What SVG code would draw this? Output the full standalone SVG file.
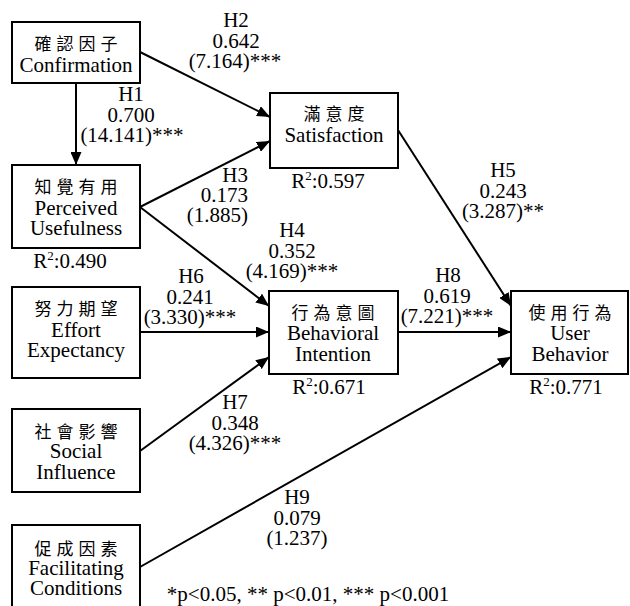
<svg xmlns="http://www.w3.org/2000/svg" width="630" height="606" viewBox="0 0 630 606">
<style>
.box{fill:#fff;stroke:#000;stroke-width:2}
.t{font-family:"Liberation Serif","Times New Roman",serif;font-size:21px;text-anchor:middle;fill:#000}
.e{text-anchor:end}
.c{font-family:"Noto Sans CJK TC","Noto Sans CJK SC",sans-serif;font-size:17px;letter-spacing:5px;text-anchor:middle;fill:#000}
.ln{stroke:#000;stroke-width:2;fill:none;marker-end:url(#ah)}
</style>
<defs>
<marker id="ah" markerUnits="userSpaceOnUse" markerWidth="13" markerHeight="11" refX="13" refY="5.5" orient="auto" viewBox="0 0 13 11">
<path d="M0,0 L13,5.5 L0,11 z" fill="#000"/>
</marker>
</defs>
<rect width="630" height="606" fill="#fff"/>
<g id="connectors">
<path class="ln" d="M76,83 L76,165"/>
<path class="ln" d="M140,52 L270,117"/>
<path class="ln" d="M140,207 L270,141"/>
<path class="ln" d="M140,207 L269,306"/>
<path class="ln" d="M398,130 L511,306"/>
<path class="ln" d="M140,332 L269,332"/>
<path class="ln" d="M140,451 L269,357"/>
<path class="ln" d="M398,332 L511,332"/>
<path class="ln" d="M140,567 L511,357"/>
</g>
<g id="node-confirmation">
<rect class="box" x="12" y="22" width="128" height="61"/>
<text class="c" x="78.5" y="50">確認因子</text>
<text class="t" x="76" y="72">Confirmation</text>
</g>
<g id="node-pu">
<rect class="box" x="12" y="165" width="128" height="83"/>
<text class="c" x="78.5" y="193">知覺有用</text>
<text class="t" x="76" y="215">Perceived</text>
<text class="t" x="76" y="235">Usefulness</text>
<text class="t" x="70" y="268">R<tspan font-size="13" dy="-8">2</tspan><tspan dy="8">:0.490</tspan></text>
</g>
<g id="node-satisfaction">
<rect class="box" x="270" y="93" width="128" height="75"/>
<text class="c" x="336.5" y="120">滿意度</text>
<text class="t" x="334" y="142">Satisfaction</text>
<text class="t" x="328" y="188">R<tspan font-size="13" dy="-8">2</tspan><tspan dy="8">:0.597</tspan></text>
</g>
<g id="node-effort">
<rect class="box" x="12" y="287" width="128" height="91"/>
<text class="c" x="78.5" y="315">努力期望</text>
<text class="t" x="76" y="337">Effort</text>
<text class="t" x="76" y="357">Expectancy</text>
</g>
<g id="node-social">
<rect class="box" x="12" y="409" width="128" height="83"/>
<text class="c" x="78.5" y="438">社會影響</text>
<text class="t" x="76" y="458">Social</text>
<text class="t" x="76" y="479">Influence</text>
</g>
<g id="node-facilitating">
<rect class="box" x="12" y="525" width="128" height="90"/>
<text class="c" x="78.5" y="555">促成因素</text>
<text class="t" x="76" y="575">Facilitating</text>
<text class="t" x="76" y="595">Conditions</text>
</g>
<g id="node-bi">
<rect class="box" x="269" y="291" width="129" height="83"/>
<text class="c" x="335.5" y="319">行為意圖</text>
<text class="t" x="333" y="340">Behavioral</text>
<text class="t" x="333" y="361">Intention</text>
<text class="t" x="329" y="394">R<tspan font-size="13" dy="-8">2</tspan><tspan dy="8">:0.671</tspan></text>
</g>
<g id="node-ub">
<rect class="box" x="511" y="291" width="117" height="83"/>
<text class="c" x="572.5" y="319">使用行為</text>
<text class="t" x="570" y="340">User</text>
<text class="t" x="570" y="361">Behavior</text>
<text class="t" x="566" y="394">R<tspan font-size="13" dy="-8">2</tspan><tspan dy="8">:0.771</tspan></text>
</g>
<g id="labels">
<text class="t" x="131" y="101">H1</text>
<text class="t" x="131" y="122">0.700</text>
<text class="t" x="132" y="142">(14.141)***</text>
<text class="t" x="236" y="27">H2</text>
<text class="t" x="236" y="48">0.642</text>
<text class="t" x="235" y="68">(7.164)***</text>
<text class="t e" x="248" y="182">H3</text>
<text class="t e" x="248" y="202">0.173</text>
<text class="t e" x="248" y="222">(1.885)</text>
<text class="t" x="292" y="237">H4</text>
<text class="t" x="292" y="258">0.352</text>
<text class="t" x="292" y="278">(4.169)***</text>
<text class="t" x="503" y="177">H5</text>
<text class="t" x="503" y="198">0.243</text>
<text class="t" x="503" y="218">(3.287)**</text>
<text class="t" x="191" y="283">H6</text>
<text class="t" x="190" y="304">0.241</text>
<text class="t" x="190" y="324">(3.330)***</text>
<text class="t" x="235" y="409">H7</text>
<text class="t" x="235" y="430">0.348</text>
<text class="t" x="235" y="450">(4.326)***</text>
<text class="t" x="448" y="282">H8</text>
<text class="t" x="447" y="303">0.619</text>
<text class="t" x="447" y="323">(7.221)***</text>
<text class="t" x="297" y="504">H9</text>
<text class="t" x="297" y="525">0.079</text>
<text class="t" x="297" y="545">(1.237)</text>
<text class="t" x="308" y="601">*p&lt;0.05, ** p&lt;0.01, *** p&lt;0.001</text>
</g>
</svg>
